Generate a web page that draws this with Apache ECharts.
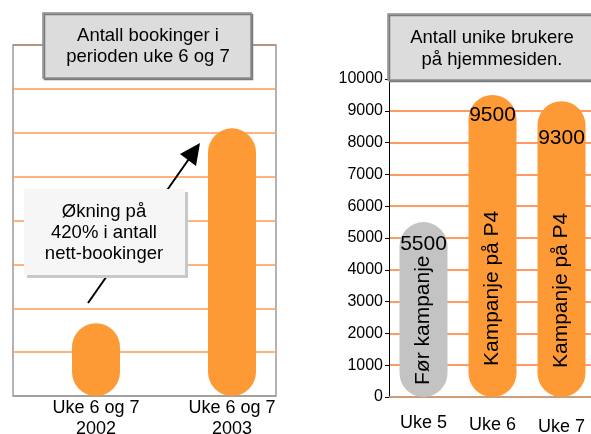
<!DOCTYPE html>
<html>
<head>
<meta charset="utf-8">
<script src="https://cdn.jsdelivr.net/npm/echarts@6/dist/echarts.min.js"></script>
<style>
  html, body { margin: 0; padding: 0; background: #fff; }
  #chart { width: 591px; height: 434px; }
</style>
</head>
<body>
<div id="chart"></div>
<script>
// venstre diagram: bookinger
const bookingCats = ['Uke 6 og 7\n2002', 'Uke 6 og 7\n2003']
const bookingVals = [1.66, 6.1]

// høyre diagram: unike brukere
const userCats = ['Uke 5', 'Uke 6', 'Uke 7']
const userVals = [5500, 9500, 9300]
const userNotes = ['Før kampanje', 'Kampanje på P4', 'Kampanje på P4']
const userTicks = [0, 1000, 2000, 3000, 4000, 5000, 6000, 7000, 8000, 9000, 10000]

const ORANGE = '#fd9a35'
const GREY = '#c3c3c3'
const FONT = '"Liberation Sans", Arial, sans-serif'
const GRID_LINE = '#ff9a55'

let chart = echarts.init(document.getElementById('chart'))

// per-stolpe justering av etiketter
const valueLabelDist = [12, 10, 26]
const noteLabelDist = [9, 29, 29]
const noteLabelX = [3, 2, 0]
const catPad = [0, 2, 4]

chart.setOption({
  animation: false,
  grid: [
    // ramme og rutenett til venstre
    { left: 13, top: 45, width: 263, bottom: 38, outerBoundsMode: 'none', show: true, borderColor: '#9a9a9a', borderWidth: 1.5 },
    // stolper til venstre
    { left: 28, top: 45, width: 272, bottom: 38, outerBoundsMode: 'none' },
    // høyre diagram
    { left: 389, top: 79, width: 207, bottom: 37, outerBoundsMode: 'none' }
  ],
  xAxis: [
    { gridIndex: 0, type: 'category', data: ['', ''], show: false },
    {
      gridIndex: 1, type: 'category', data: bookingCats,
      axisLine: { show: false }, axisTick: { show: false },
      axisLabel: { color: '#000', fontFamily: FONT, fontSize: 18, lineHeight: 21, margin: 2 }
    },
    {
      gridIndex: 2, type: 'category',
      data: userCats.map((c, i) => ({ value: c, textStyle: { padding: [catPad[i], 0, 0, 0] } })),
      axisLine: { lineStyle: { color: '#bf9f80', width: 1.5 } },
      axisTick: { show: false },
      axisLabel: { color: '#000', fontFamily: FONT, fontSize: 18, margin: 17 }
    }
  ],
  yAxis: [
    {
      gridIndex: 0, type: 'value', min: 0, max: 8, interval: 1,
      axisLine: { show: false }, axisTick: { show: false }, axisLabel: { show: false },
      splitLine: {
        lineStyle: {
          color: ['#9a9a9a', GRID_LINE, GRID_LINE, GRID_LINE, GRID_LINE, GRID_LINE, GRID_LINE, GRID_LINE, '#b58b6e'],
          width: 1.5
        }
      }
    },
    { gridIndex: 1, type: 'value', min: 0, max: 8, show: false, splitLine: { show: false } },
    {
      gridIndex: 2, type: 'value', min: userTicks[0], max: userTicks[userTicks.length - 1], interval: 1000,
      axisLine: { show: true, lineStyle: { color: '#000', width: 1 } },
      axisTick: { show: true, length: 4, lineStyle: { color: '#000' } },
      axisLabel: { color: '#000', fontFamily: FONT, fontSize: 16, margin: 6, formatter: v => String(v) },
      splitLine: { lineStyle: { color: '#ff7a2e', width: 1.5 } }
    }
  ],
  series: [
    {
      type: 'bar', xAxisIndex: 1, yAxisIndex: 1,
      data: bookingVals, barWidth: 48,
      itemStyle: { color: ORANGE, borderRadius: 24 }
    },
    {
      type: 'bar', xAxisIndex: 2, yAxisIndex: 2, barWidth: 48,
      data: userVals.map((v, i) => ({
        value: v,
        itemStyle: { color: i === 0 ? GREY : ORANGE },
        label: { distance: valueLabelDist[i] }
      })),
      itemStyle: { borderRadius: 24 },
      label: { show: true, position: 'insideTop', color: '#000', fontFamily: FONT, fontSize: 21 }
    },
    {
      // usynlig lag for de roterte tekstene
      type: 'bar', xAxisIndex: 2, yAxisIndex: 2, barWidth: 48, barGap: '-100%',
      silent: true,
      data: userVals.map((v, i) => ({
        value: v,
        label: { distance: noteLabelDist[i], offset: [noteLabelX[i], 0] }
      })),
      itemStyle: { color: 'rgba(0,0,0,0)' },
      label: {
        show: true, position: 'insideBottom', rotate: 90, align: 'left', verticalAlign: 'middle',
        color: '#000', fontFamily: FONT, fontSize: 21,
        formatter: p => userNotes[p.dataIndex]
      }
    }
  ],
  graphic: [
    {
      type: 'polyline', z: 20,
      shape: { points: [[88, 303], [191, 156]] },
      style: { stroke: '#000', lineWidth: 2 }
    },
    {
      type: 'polygon', z: 20,
      shape: { points: [[200, 143], [180, 154], [196, 166]] },
      style: { fill: '#000' }
    },
    {
      type: 'rect', z: 30,
      shape: { x: 24, y: 189, width: 161, height: 86 },
      style: { fill: '#f6f6f6', shadowColor: '#c8c8c8', shadowOffsetX: 3, shadowOffsetY: 3, shadowBlur: 0 }
    },
    {
      type: 'text', z: 31, x: 104, y: 233,
      style: {
        text: 'Økning på\n420% i antall\nnett-bookinger', fill: '#000',
        font: '18.5px ' + FONT, lineHeight: 21, align: 'center', verticalAlign: 'middle'
      }
    },
    {
      type: 'rect', z: 30,
      shape: { x: 43, y: 13, width: 208, height: 65 },
      style: { fill: '#dcdcdc', stroke: '#8a8a8a', lineWidth: 1.5, shadowColor: '#7a7a7a', shadowOffsetX: 1.5, shadowOffsetY: 1.5, shadowBlur: 0 }
    },
    {
      type: 'text', z: 31, x: 148, y: 46,
      style: {
        text: 'Antall bookinger i\nperioden uke 6 og 7', fill: '#000',
        font: '18.5px ' + FONT, lineHeight: 21, align: 'center', verticalAlign: 'middle'
      }
    },
    {
      type: 'rect', z: 30,
      shape: { x: 388, y: 14, width: 220, height: 66 },
      style: { fill: '#dcdcdc', stroke: '#8a8a8a', lineWidth: 1.5, shadowColor: '#7a7a7a', shadowOffsetX: 1.5, shadowOffsetY: 1.5, shadowBlur: 0 }
    },
    {
      type: 'text', z: 31, x: 492, y: 49,
      style: {
        text: 'Antall unike brukere\npå hjemmesiden.', fill: '#000',
        font: '18.5px ' + FONT, lineHeight: 22, align: 'center', verticalAlign: 'middle'
      }
    }
  ]
})
</script>
</body>
</html>
